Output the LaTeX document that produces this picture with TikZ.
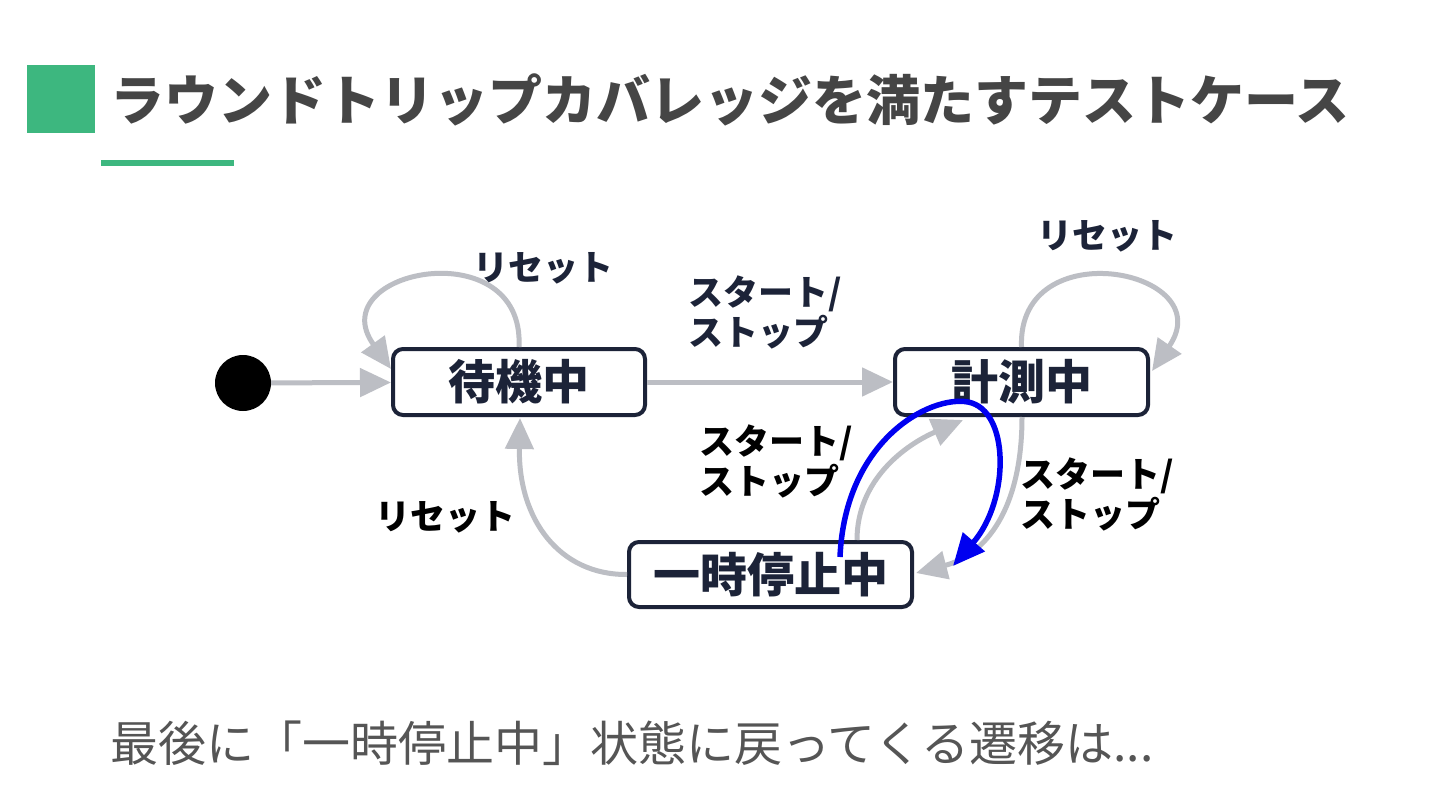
\documentclass[tikz,border=0pt]{standalone}
\usepackage{fontspec}
\newfontfamily\jp{Noto Sans CJK JP}
\usetikzlibrary{arrows.meta}
\definecolor{grn}{HTML}{3DB77F}
\definecolor{ttl}{HTML}{454545}
\definecolor{navy}{HTML}{1C2338}
\definecolor{garr}{HTML}{BCBEC4}
\definecolor{blu}{HTML}{0000F0}
\definecolor{btm}{HTML}{555555}
\tikzset{
  state/.style={draw=navy, line width=4pt, rounded corners=10pt, inner sep=0pt,
    font=\jp\bfseries\fontsize{47}{50}\selectfont, text=navy},
  garrow/.style={draw=garr, line width=5pt, -{Triangle[length=31pt,width=28pt]}},
  barrow/.style={draw=blu, line width=5.5pt, -{Triangle[length=32pt,width=28pt]}},
  lbl/.style={font=\jp\bfseries\fontsize{35}{40}\selectfont, text=navy, align=left, inner sep=0pt},
}
\begin{document}
\begin{tikzpicture}[x=1pt,y=-1pt]
\useasboundingbox[fill=white] (0,0) rectangle (1440,810);
% header
\fill[grn] (27,65) rectangle (95,133);
\node[anchor=base west, inner sep=0pt, font=\jp\bfseries\fontsize{54}{60}\selectfont, text=ttl] (title) at (110,121) {ラウンドトリップカバレッジを満たすテストケース};
\fill[grn] (101,160) rectangle (234,166);
% states
\node[circle, fill=black, minimum size=56pt, inner sep=0pt] (init) at (243,383) {};
\node[state, minimum width=252pt, minimum height=66pt] (wait) at (519,382) {待機中};
\node[state, minimum width=253pt, minimum height=66pt] (meas) at (1021.5,382) {計測中};
\node[state, minimum width=283pt, minimum height=65pt] (pause) at (770.5,574.5) {一時停止中};
% arrows
\draw[garrow] (init) -- (wait);
\draw[garrow] (wait) -- (meas);
\coordinate (wl) at (391,369);
\draw[garrow] (wait.north) .. controls (525,230) and (320,270) .. (wl);
\coordinate (mr) at (1152,371);
\draw[garrow] (meas.north) .. controls (1017,230) and (1222,270) .. (mr);
\coordinate (mb) at (1022,417);
\coordinate (pr) at (916,573);
\draw[garrow] (mb) .. controls (1022,510) and (985,555) .. (pr);
\coordinate (pt) at (857,540);
\coordinate (mbl) at (963,420);
\draw[garrow] (pt) .. controls (857,480) and (905,445) .. (mbl);
\coordinate (wb) at (520,418);
\draw[garrow] (pause.west) .. controls (560,575) and (518,520) .. (wb);
% highlighted transition
\coordinate (bs) at (840,557);
\coordinate (bt) at (968,402);
\coordinate (be) at (953,566);
\draw[barrow] (bs) .. controls (845,440) and (930,395) .. (bt) .. controls (1010,410) and (1010,500) .. (be);
% labels
\node[lbl] (l1) at (543,268) {リセット};
\node[lbl] (l2) at (1107,236) {リセット};
\node[lbl] (l3) at (765,312) {スタート/\\ストップ};
\node[lbl, text=black] (l4) at (776,461) {スタート/\\ストップ};
\node[lbl, text=black] (l5) at (1097,494) {スタート/\\ストップ};
\node[lbl, text=black] (l6) at (445,517) {リセット};
% bottom text
\node[anchor=base west, inner sep=0pt, font=\jp\fontsize{48}{52}\selectfont, text=btm] (bottom) at (110,761) {最後に「一時停止中」状態に戻ってくる遷移は...};
\end{tikzpicture}
\end{document}
